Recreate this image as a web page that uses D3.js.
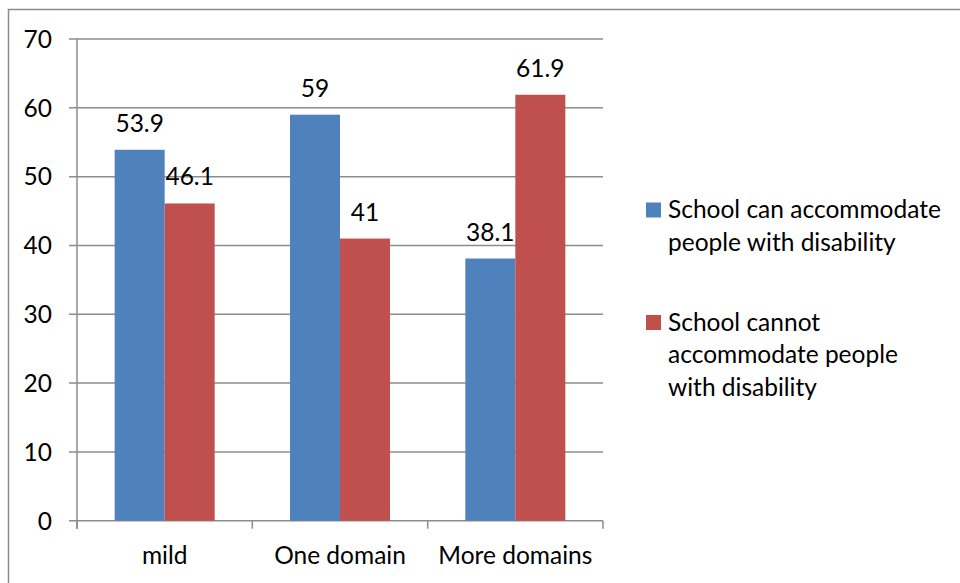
<!DOCTYPE html>
<html><head><meta charset="utf-8">
<script src="https://cdn.jsdelivr.net/npm/d3@7"></script>
<style>body{margin:0;background:#fff}svg{display:block}text{font-family:Lato,"Open Sans",sans-serif;fill:#000}</style>
</head><body><svg id="c" width="960" height="583"></svg>
<script>
const categories = ["mild", "One domain", "More domains"];
const seriesNames = ["School can accommodate people with disability", "School cannot accommodate people with disability"];
const canValues = [53.9, 59, 38.1];
const cannotValues = [46.1, 41, 61.9];
const legendLines = [["School can accommodate", "people with disability"], ["School cannot", "accommodate people", "with disability"]];
const yTicks = [0, 10, 20, 30, 40, 50, 60, 70];
const colors = ["#4F81BD", "#C0504D"];

(function () {
const svg = d3.select("#c");
const FS = 24.5;
svg.append("rect").attr("x", 8.5).attr("y", 9.5).attr("width", 1000).attr("height", 700)
  .attr("fill", "none").attr("stroke", "#8c8c8c").attr("stroke-width", 1.5);

const pL = 77, pR = 603, pT = 39, pB = 520.7;
const y = d3.scaleLinear().domain([0, 70]).range([pB, pT]);
const x0 = d3.scaleBand().domain(categories).range([pL, pR]).padding(0);
const x1 = d3.scaleBand().domain(seriesNames).range([0, x0.bandwidth()]).paddingInner(0).paddingOuter(0.753);

svg.append("g").selectAll("line").data(yTicks).join("line")
  .attr("x1", pL - 8).attr("x2", pR).attr("y1", d => y(d)).attr("y2", d => y(d))
  .attr("stroke", "#8c8c8c").attr("stroke-width", 1.5);

const data = categories.map((c, i) => ({cat: c, vals: [canValues[i], cannotValues[i]]}));
const groups = svg.append("g").selectAll("g").data(data).join("g")
  .attr("transform", d => `translate(${x0(d.cat)},0)`);
groups.selectAll("rect").data(d => d.vals.map((v, j) => ({v, s: seriesNames[j], j}))).join("rect")
  .attr("x", d => x1(d.s)).attr("width", x1.bandwidth())
  .attr("y", d => y(d.v)).attr("height", d => y(0) - y(d.v))
  .attr("fill", d => colors[d.j]);
groups.selectAll("text").data(d => d.vals.map((v, j) => ({v, s: seriesNames[j], j}))).join("text")
  .attr("x", d => x1(d.s) + x1.bandwidth() / 2).attr("y", d => y(d.v) - 18)
  .attr("text-anchor", "middle").attr("font-size", FS).text(d => d.v);

svg.append("line").attr("x1", pL).attr("x2", pL).attr("y1", pT).attr("y2", pB + 8)
  .attr("stroke", "#8c8c8c").attr("stroke-width", 1.5);
const bounds = categories.map(c => x0(c)).concat([pR]);
svg.append("g").selectAll("line").data(bounds).join("line")
  .attr("x1", d => d).attr("x2", d => d).attr("y1", pB).attr("y2", pB + 8)
  .attr("stroke", "#8c8c8c").attr("stroke-width", 1.5);

svg.append("g").selectAll("text").data(yTicks).join("text")
  .attr("x", 52).attr("y", d => y(d)).attr("dy", "0.36em").attr("text-anchor", "end")
  .attr("font-size", FS).text(d => d);
svg.append("g").selectAll("text").data(categories).join("text")
  .attr("x", d => x0(d) + x0.bandwidth() / 2).attr("y", 564).attr("text-anchor", "middle")
  .attr("font-size", FS).text(d => d);

const legendY = [210, 322.5];
legendLines.forEach((lines, i) => {
  svg.append("rect").attr("x", 646).attr("y", legendY[i] - 7.5).attr("width", 15).attr("height", 15).attr("fill", colors[i]);
  const t = svg.append("text").attr("x", 668).attr("y", legendY[i] + 8).attr("font-size", FS);
  lines.forEach((l, k) => t.append("tspan").attr("x", 668).attr("dy", k === 0 ? 0 : 32.5).text(l));
});
})();
</script></body></html>
